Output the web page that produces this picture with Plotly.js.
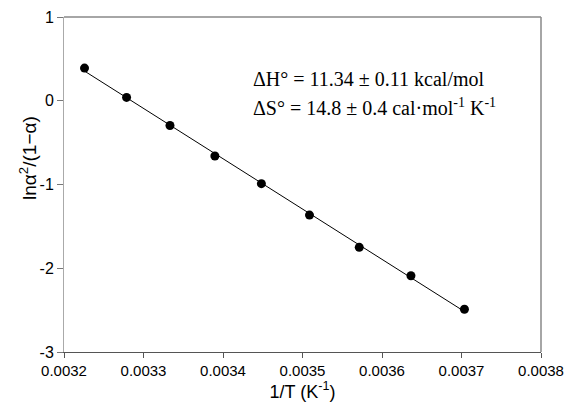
<!DOCTYPE html>
<html>
<head>
<meta charset="utf-8">
<script src="https://cdn.plot.ly/plotly-3.0.1.min.js"></script>
<style>html,body{margin:0;padding:0;background:#fff;}#chart{width:568px;height:404px;}</style>
</head>
<body>
<div id="chart"></div>
<script>
// Data
var invT = [0.0032258, 0.0032787, 0.0033333, 0.0033898, 0.0034483, 0.0035088, 0.0035714, 0.0036364, 0.0037037];
var lnY  = [0.39, 0.04, -0.295, -0.66, -0.99, -1.365, -1.75, -2.09, -2.49];

var xTickVals = [0.0032, 0.0033, 0.0034, 0.0035, 0.0036, 0.0037, 0.0038];
var xTickText = ["0.0032", "0.0033", "0.0034", "0.0035", "0.0036", "0.0037", "0.0038"];
var yTickVals = [1, 0, -1, -2, -3];
var yTickText = ["1", "0", "-1", "-2", "-3"];

var xTitle = "1/T (K<sup>-1</sup>)";
var yTitle = "lnα<sup>2</sup>/(1−α)";
var line1 = "ΔH° = 11.34 ± 0.11 kcal/mol";
var line2 = "ΔS° = 14.8 ± 0.4 cal·mol<sup>-1</sup> K<sup>-1</sup>";

// least-squares fit line
var n = invT.length, sx = 0, sy = 0, sxx = 0, sxy = 0;
for (var i = 0; i < n; i++) { sx += invT[i]; sy += lnY[i]; sxx += invT[i]*invT[i]; sxy += invT[i]*lnY[i]; }
var slope = (n*sxy - sx*sy) / (n*sxx - sx*sx);
var icpt = (sy - slope*sx) / n;
var fitX = [invT[0], invT[n-1]];
var fitY = fitX.map(function(x){ return icpt + slope*x; });

var traces = [
  {x: fitX, y: fitY, mode: 'lines', line: {color: '#000', width: 1}, hoverinfo: 'skip'},
  {x: invT, y: lnY, mode: 'markers', marker: {color: '#000', size: 9}}
];

var sans = 'Liberation Sans, Arial, sans-serif';
var serif = 'Liberation Serif, Times New Roman, serif';

var layout = {
  width: 568, height: 404,
  margin: {l: 64, r: 27, t: 17, b: 52, pad: 0},
  paper_bgcolor: '#fff', plot_bgcolor: '#fff',
  showlegend: false,
  font: {family: sans, color: '#000'},
  xaxis: {
    range: [0.0032, 0.0038], tickvals: xTickVals, ticktext: xTickText,
    showgrid: false, zeroline: false, showline: true, linecolor: '#555', linewidth: 1,
    ticks: 'outside', ticklen: 5, tickcolor: '#555', tickwidth: 1,
    tickfont: {size: 15, family: sans},
    title: {text: xTitle, font: {size: 18, family: sans}, standoff: 6}
  },
  yaxis: {
    range: [-3, 1], tickvals: yTickVals, ticktext: yTickText,
    showgrid: false, zeroline: false, showline: true, linecolor: '#aaa', linewidth: 1,
    ticks: 'outside', ticklen: 6, tickcolor: '#777', tickwidth: 1,
    tickfont: {size: 16, family: sans}
  },
  shapes: [
    {type: 'line', xref: 'paper', yref: 'paper', x0: 0, x1: 1, y0: 1, y1: 1, line: {color: '#888', width: 1.5}},
    {type: 'line', xref: 'paper', yref: 'paper', x0: 1, x1: 1, y0: 0, y1: 1, line: {color: '#888', width: 1.5}}
  ],
  annotations: [
    {xref: 'paper', yref: 'paper', x: -0.077, y: 0.58, xanchor: 'center', yanchor: 'middle', showarrow: false,
     textangle: -90, text: yTitle, font: {family: sans, size: 19, color: '#000'}},
    {xref: 'paper', yref: 'paper', x: 0.393, y: 0.815, xanchor: 'left', yanchor: 'middle', showarrow: false,
     text: line1, font: {family: serif, size: 20, color: '#000'}},
    {xref: 'paper', yref: 'paper', x: 0.393, y: 0.73, xanchor: 'left', yanchor: 'middle', showarrow: false,
     text: line2, font: {family: serif, size: 20, color: '#000'}}
  ]
};

Plotly.newPlot('chart', traces, layout, {displayModeBar: false, staticPlot: true});
</script>
</body>
</html>
